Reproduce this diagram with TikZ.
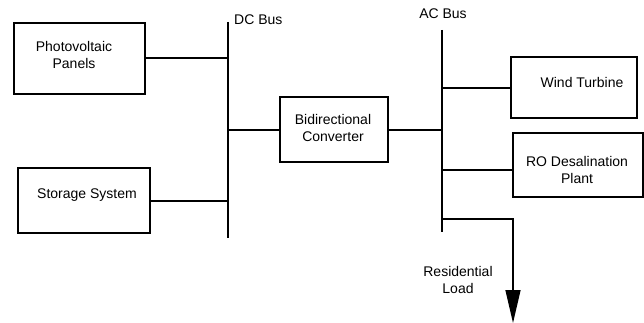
\documentclass[tikz,border=0pt]{standalone}
\usepackage{fontspec}
\setmainfont{Liberation Sans}
\usetikzlibrary{arrows.meta}
\begin{document}
\begin{tikzpicture}[x=1pt,y=-1pt,
  box/.style={draw,line width=1.4pt,inner sep=0pt},
  wire/.style={line width=1.4pt},
  txt/.style={font=\fontsize{14}{16.5}\selectfont,align=center,inner sep=0pt}]
\useasboundingbox (0,0) rectangle (644,323);
% boxes
\node[box,minimum width=131pt,minimum height=71pt] (pv) at (79.5,58.5) {};
\node[txt] (pvt) at (74,55) {Photovoltaic\\Panels};
\node[box,minimum width=132pt,minimum height=65pt] (st) at (84,200.5) {};
\node[txt] (stt) at (87,195) {Storage System};
\node[box,minimum width=108pt,minimum height=65pt] (cv) at (334,129.5) {};
\node[txt] (cvt) at (333,128) {Bidirectional\\Converter};
\node[box,minimum width=126pt,minimum height=61pt] (wt) at (574,87.5) {};
\node[txt] (wtt) at (582,82) {Wind Turbine};
\node[box,minimum width=130pt,minimum height=64pt] (ro) at (578,165) {};
\node[txt] (rot) at (577,170) {RO Desalination\\Plant};
% buses
\coordinate (dctop) at (228,22);
\coordinate (dcbot) at (228,238);
\coordinate (actop) at (442,30);
\coordinate (acbot) at (442,232);
\draw[wire] (dctop) -- (dcbot);
\draw[wire] (actop) -- (acbot);
\node[txt,anchor=west] (dcl) at (234,20) {DC Bus};
\node[txt] (acl) at (443,14) {AC Bus};
% connections
\draw[wire] (pv.east |- 0,58) -- (228,58);
\draw[wire] (st.east |- 0,201) -- (228,201);
\draw[wire] (228,130) -- (cv.west |- 0,130);
\draw[wire] (cv.east |- 0,130) -- (442,130);
\draw[wire] (442,88) -- (wt.west |- 0,88);
\draw[wire] (442,170) -- (ro.west |- 0,170);
\coordinate (ldtop) at (442,219);
\coordinate (ldtip) at (513,323);
\draw[wire,-{Triangle[length=33pt,width=15pt]}] (ldtop) -| (ldtip);
\node[txt] (ldl) at (458,280) {Residential\\Load};
\end{tikzpicture}
\end{document}
